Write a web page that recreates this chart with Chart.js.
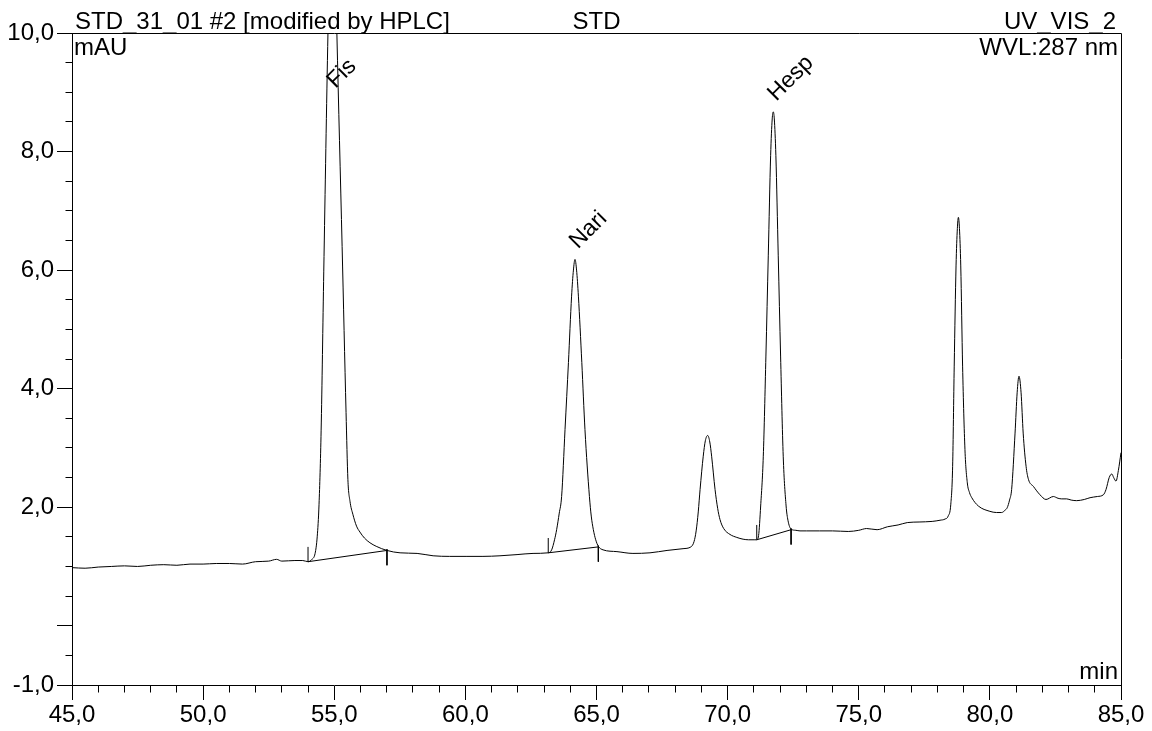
<!DOCTYPE html>
<html><head><meta charset="utf-8">
<script src="https://cdn.jsdelivr.net/npm/chart.js@4/dist/chart.umd.min.js"></script>
<style>html,body{margin:0;padding:0;background:#fff;}canvas{display:block;}</style>
</head><body>
<canvas id="c" width="1152" height="731"></canvas>
<script>
// ---- data ----
const retentionTimes = [
45.0,45.5,46.0,46.5,47.0,47.5,48.0,48.5,49.0,49.5,50.0,50.5,51.0,51.5,52.0,52.5,52.8,53.0,53.5,53.8,54.0,
54.15,54.27,54.35,54.42,54.50,54.60,54.76,54.93,55.10,55.30,55.45,55.52,55.60,55.71,55.85,55.98,56.15,56.36,56.60,57.01,
57.51,58.16,58.77,59.40,60.06,60.67,61.32,61.97,62.58,63.16,
63.29,63.40,63.48,63.58,63.67,63.80,63.93,64.05,64.12,64.18,64.24,64.31,64.44,64.56,64.73,64.80,64.88,64.97,65.07,65.25,
65.78,66.39,67.04,67.69,68.30,68.60,68.72,68.80,68.88,68.95,69.07,69.15,69.24,69.32,69.39,69.52,69.62,69.71,69.85,70.09,
70.35,70.59,70.80,71.04,71.11,71.18,71.26,71.36,71.46,71.55,71.64,71.70,71.74,71.78,71.84,71.93,72.02,72.12,72.23,72.30,
72.42,72.60,72.76,73.00,73.50,74.00,74.60,75.00,75.30,75.70,76.10,76.50,76.85,77.30,77.80,78.10,78.29,78.41,78.51,78.58,
78.64,78.71,78.76,78.80,78.84,78.89,78.96,79.05,79.14,79.22,79.31,79.56,80.00,80.25,80.45,80.58,80.66,80.75,80.83,80.96,
81.04,81.11,81.19,81.27,81.38,81.47,81.66,81.91,82.14,82.42,82.60,82.74,82.93,83.10,83.31,83.60,83.82,84.10,84.33,84.43,
84.55,84.65,84.72,84.81,84.90,85.00];
const absorbance = [
0.98,0.97,0.99,1.00,1.01,1.00,1.02,1.03,1.02,1.04,1.04,1.05,1.05,1.04,1.08,1.09,1.12,1.09,1.10,1.10,1.08,
1.12,1.22,1.50,2.05,3.30,5.97,10.0,13.4,10.0,6.40,3.60,2.47,2.10,1.88,1.68,1.58,1.48,1.40,1.34,1.27,
1.23,1.22,1.18,1.17,1.17,1.17,1.18,1.20,1.22,1.23,
1.28,1.45,1.62,1.90,2.18,3.31,4.44,5.56,6.00,6.18,6.00,5.56,4.44,3.31,2.18,1.85,1.62,1.45,1.34,1.28,
1.25,1.22,1.23,1.27,1.30,1.33,1.42,1.60,1.92,2.30,2.86,3.12,3.21,3.10,2.86,2.30,1.98,1.79,1.64,1.54,
1.49,1.46,1.45,1.45,1.45,1.52,2.02,2.86,4.55,6.24,7.93,8.55,8.67,8.55,7.93,6.24,4.55,2.86,2.02,1.78,
1.63,1.61,1.60,1.60,1.60,1.60,1.59,1.61,1.64,1.62,1.67,1.70,1.74,1.75,1.76,1.78,1.80,1.85,2.05,2.69,
4.38,6.07,6.70,6.89,6.70,6.07,4.38,2.97,2.41,2.25,2.16,2.02,1.93,1.91,1.91,1.95,1.99,2.12,2.30,3.25,
3.93,4.21,3.93,3.25,2.69,2.47,2.35,2.21,2.13,2.18,2.15,2.14,2.14,2.12,2.11,2.13,2.16,2.18,2.21,2.30,
2.50,2.56,2.50,2.44,2.62,2.92];

const peakNames = ['Fis', 'Nari', 'Hesp'];
const peakTimes = [54.93, 64.18, 71.74];
const peakHeights = [13.4, 6.18, 8.67];
const integStartTimes = [54.00, 63.16, 71.11];
const integStartValues = [1.08, 1.23, 1.45];
const integEndTimes = [57.01, 65.07, 72.42];
const integEndValues = [1.27, 1.33, 1.62];

const xMajorTicks = [45, 50, 55, 60, 65, 70, 75, 80, 85];
const yMajorTicks = [-1, 0, 2, 4, 6, 8, 10];
const yUnlabelledTicks = [0];

const headerLeft = 'STD_31_01 #2 [modified by HPLC]';
const headerCenter = 'STD';
const headerRight = 'UV_VIS_2';
const yUnit = 'mAU';
const wavelengthText = 'WVL:287 nm';
const xUnit = 'min';

// ---- rendering ----
const FONT = '"Liberation Sans", Arial, Helvetica, sans-serif';
const MARK = 0.25; // integration marker length (mAU)

const fmt = v => v.toFixed(1).replace('.', ',');

const datasets = [{
  data: retentionTimes.map((t, i) => ({x: t, y: absorbance[i]})),
  borderColor: '#000', borderWidth: 1, pointRadius: 0, fill: false,
  cubicInterpolationMode: 'monotone'
}];
integStartTimes.forEach((t, i) => {
  const base = {borderColor: '#000', borderWidth: 1, pointRadius: 0, fill: false, tension: 0};
  datasets.push(Object.assign({}, base, {data: [{x: t, y: integStartValues[i]}, {x: integEndTimes[i], y: integEndValues[i]}]}));
  datasets.push(Object.assign({}, base, {data: [{x: t, y: integStartValues[i]}, {x: t, y: integStartValues[i] + MARK}]}));
  datasets.push(Object.assign({}, base, {data: [{x: integEndTimes[i], y: integEndValues[i] + 0.02}, {x: integEndTimes[i], y: integEndValues[i] - MARK}]}));
});

const decor = {
  id: 'decor',
  afterDraw(chart) {
    const {ctx, chartArea: a, scales: {x, y}} = chart;
    const al = p => Math.round(p - 0.5) + 0.5;
    ctx.save();
    ctx.strokeStyle = '#000'; ctx.lineWidth = 1;
    ctx.beginPath();
    ctx.moveTo(al(a.left), al(a.top)); ctx.lineTo(al(a.right), al(a.top)); ctx.lineTo(al(a.right), al(a.bottom));
    for (let v = 45; v <= 85; v += 1) {
      if (xMajorTicks.includes(v)) continue;
      const px = al(x.getPixelForValue(v));
      ctx.moveTo(px, al(a.bottom)); ctx.lineTo(px, al(a.bottom) + 7);
    }
    for (let k = -2; k <= 20; k++) {
      const v = k / 2;
      if (yMajorTicks.includes(v)) continue;
      const py = al(y.getPixelForValue(v));
      ctx.moveTo(al(a.left) - 7, py); ctx.lineTo(al(a.left), py);
    }
    ctx.stroke();
    ctx.fillStyle = '#000';
    ctx.font = '24px ' + FONT;
    ctx.textBaseline = 'alphabetic';
    ctx.textAlign = 'left';
    ctx.fillText(headerLeft, a.left + 3, a.top - 4);
    ctx.fillText(yUnit, a.left + 2, a.top + 22);
    ctx.textAlign = 'center';
    ctx.fillText(headerCenter, (a.left + a.right) / 2, a.top - 4);
    ctx.textAlign = 'right';
    ctx.fillText(headerRight, a.right - 5, a.top - 4);
    ctx.fillText(wavelengthText, a.right - 3, a.top + 22);
    ctx.fillText(xUnit, a.right - 3, a.bottom - 6);
    ctx.font = '23px ' + FONT;
    ctx.textAlign = 'left';
    peakNames.forEach((n, i) => {
      const px = x.getPixelForValue(peakTimes[i]) + 3;
      const py = Math.max(y.getPixelForValue(peakHeights[i]), a.top + 66) - 10;
      ctx.save();
      ctx.translate(px, py);
      ctx.rotate(-Math.PI / 4);
      ctx.fillText(n, 0, 0);
      ctx.restore();
    });
    ctx.restore();
  }
};

new Chart(document.getElementById('c'), {
  type: 'line',
  data: {datasets},
  options: {
    responsive: false, animation: false, devicePixelRatio: 1,
    layout: {padding: {top: 33, right: 31, left: 0, bottom: 0}},
    plugins: {legend: {display: false}, tooltip: {enabled: false}},
    scales: {
      x: {
        type: 'linear', min: 45, max: 85,
        afterBuildTicks: s => { s.ticks = xMajorTicks.map(v => ({value: v})); },
        afterFit: s => { s.height = 46; },
        ticks: {callback: v => fmt(v), font: {family: FONT, size: 24}, color: '#000', maxRotation: 0, autoSkip: false, padding: 1},
        grid: {drawOnChartArea: false, tickLength: 15, tickColor: '#000', tickWidth: 1},
        border: {display: true, color: '#000', width: 1}
      },
      y: {
        type: 'linear', min: -1, max: 10,
        afterBuildTicks: s => { s.ticks = yMajorTicks.map(v => ({value: v})); },
        afterFit: s => { s.width = 72; },
        ticks: {callback: v => yUnlabelledTicks.includes(v) ? '' : fmt(v), font: {family: FONT, size: 24}, color: '#000', padding: 3},
        grid: {drawOnChartArea: false, tickLength: 15, tickColor: '#000', tickWidth: 1},
        border: {display: true, color: '#000', width: 1}
      }
    }
  },
  plugins: [decor]
});
</script>
</body></html>
